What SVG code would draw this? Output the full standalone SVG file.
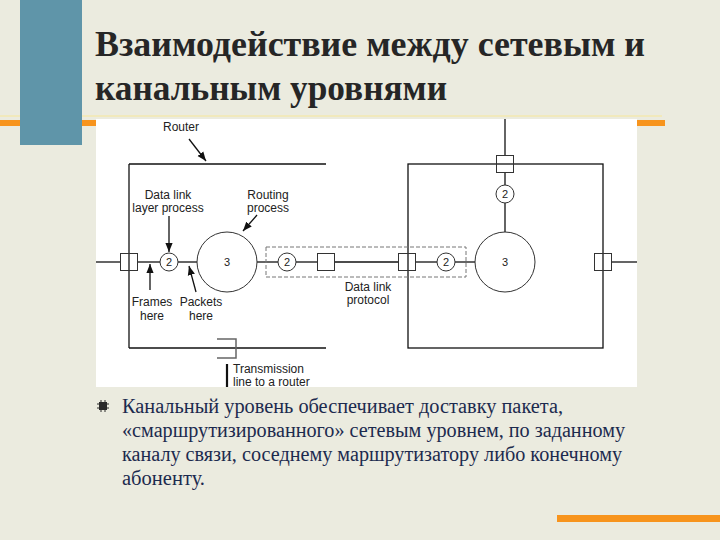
<svg xmlns="http://www.w3.org/2000/svg" width="720" height="540" viewBox="0 0 720 540">
<defs>
<style>
.ln{stroke:#111;stroke-width:1.3;fill:none}
.box{stroke:#333;stroke-width:1;fill:#fff}
.lbl{font-family:"Liberation Sans",Arial,sans-serif;font-size:12px;fill:#222}
.num{font-family:"Liberation Sans",Arial,sans-serif;font-size:11px;fill:#222;text-anchor:middle}
</style>
<marker id="ah" viewBox="0 0 10 10" refX="10" refY="5" markerWidth="7" markerHeight="7" orient="auto-start-reverse">
<path d="M0,1 L10,5 L0,9 z" fill="#111"/>
</marker>
</defs>
<rect width="720" height="540" fill="#ebebdf"/>
<line x1="0" y1="116" x2="662" y2="116" stroke="#f1e9bc" stroke-width="2"/>
<rect x="20" y="0" width="62" height="145" fill="#5f95a9"/>
<rect x="0" y="120" width="20" height="6" fill="#f7941d"/>
<rect x="82" y="120" width="583" height="6" fill="#f7941d"/>
<rect x="557" y="515" width="163" height="7" fill="#f7941d"/>
<g id="title" font-family="Liberation Serif, DejaVu Serif, serif" font-weight="bold" font-size="36" fill="#262626">
<text x="95" y="56" textLength="550" lengthAdjust="spacingAndGlyphs">Взаимодействие между сетевым и</text>
<text x="95" y="100" textLength="352" lengthAdjust="spacingAndGlyphs">канальным уровнями</text>
</g>

<rect x="96" y="119" width="541" height="268" fill="#fff"/>

<g id="connectors">
<line class="ln" x1="129" y1="164" x2="326" y2="164"/>
<line class="ln" x1="129" y1="164" x2="129" y2="348"/>
<line class="ln" x1="129" y1="348" x2="326" y2="348"/>
<rect class="ln" x="408" y="164" width="195" height="184"/>
<line class="ln" x1="96" y1="262" x2="120.5" y2="262"/>
<line class="ln" x1="137.5" y1="262" x2="160" y2="262"/>
<line class="ln" x1="178" y1="262" x2="197" y2="262"/>
<line class="ln" x1="257" y1="262" x2="278" y2="262"/>
<line class="ln" x1="296" y1="262" x2="317.5" y2="262"/>
<line class="ln" x1="334.5" y1="262" x2="398.5" y2="262"/>
<line class="ln" x1="415.5" y1="262" x2="437" y2="262"/>
<line class="ln" x1="455" y1="262" x2="475" y2="262"/>
<line class="ln" x1="611.5" y1="262" x2="637" y2="262"/>
<line class="ln" x1="505" y1="119" x2="505" y2="155.5"/>
<line class="ln" x1="505" y1="172.5" x2="505" y2="185"/>
<line class="ln" x1="505" y1="203" x2="505" y2="232"/>
<rect x="266" y="247" width="200" height="30" fill="none" stroke="#777" stroke-width="1" stroke-dasharray="4 2"/>
<line class="ln" x1="189" y1="139" x2="206" y2="161" marker-end="url(#ah)" stroke-width="1"/>
<line class="ln" x1="169" y1="216" x2="169" y2="252" marker-end="url(#ah)" stroke-width="1"/>
<line class="ln" x1="257" y1="215" x2="243" y2="231" marker-end="url(#ah)" stroke-width="1"/>
<line class="ln" x1="150" y1="290" x2="150" y2="264" marker-end="url(#ah)" stroke-width="1"/>
<line class="ln" x1="196" y1="292" x2="189" y2="266" marker-end="url(#ah)" stroke-width="1"/>
<path d="M217,339 H236 V358 H217" fill="none" stroke="#666" stroke-width="1.5"/>
<line x1="227" y1="364" x2="227" y2="387" stroke="#111" stroke-width="2.2"/>
</g>

<g id="sq-left"><rect class="box" x="120.5" y="253.5" width="17" height="17" fill-opacity="0"/></g>
<g id="dl-left"><circle class="box" cx="169" cy="262" r="9"/><text class="num" x="169" y="266">2</text></g>
<g id="rp-left"><circle class="box" cx="227" cy="262" r="30"/><text class="num" x="227" y="266">3</text></g>
<g id="dl-mid"><circle class="box" cx="287" cy="262" r="9"/><text class="num" x="287" y="266">2</text></g>
<g id="sq-mid"><rect class="box" x="317.5" y="253.5" width="17" height="17"/></g>
<g id="sq-right-in"><rect class="box" x="398.5" y="253.5" width="17" height="17" fill-opacity="0"/></g>
<g id="dl-right"><circle class="box" cx="446" cy="262" r="9"/><text class="num" x="446" y="266">2</text></g>
<g id="rp-right"><circle class="box" cx="505" cy="262" r="30"/><text class="num" x="505" y="266">3</text></g>
<g id="sq-right-out"><rect class="box" x="594.5" y="253.5" width="17" height="17" fill-opacity="0"/></g>
<g id="sq-top"><rect class="box" x="496.5" y="155.5" width="17" height="17" fill-opacity="0"/></g>
<g id="dl-top"><circle class="box" cx="505" cy="194" r="9"/><text class="num" x="505" y="198">2</text></g>

<g id="labels">
<text class="lbl" x="181" y="131" text-anchor="middle">Router</text>
<text class="lbl" x="168" y="199" text-anchor="middle">Data link</text>
<text class="lbl" x="168" y="212" text-anchor="middle">layer process</text>
<text class="lbl" x="268" y="199" text-anchor="middle">Routing</text>
<text class="lbl" x="268" y="212" text-anchor="middle">process</text>
<text class="lbl" x="152" y="306" text-anchor="middle">Frames</text>
<text class="lbl" x="152" y="320" text-anchor="middle">here</text>
<text class="lbl" x="201" y="306" text-anchor="middle">Packets</text>
<text class="lbl" x="201" y="320" text-anchor="middle">here</text>
<text class="lbl" x="368" y="291" text-anchor="middle">Data link</text>
<text class="lbl" x="368" y="304" text-anchor="middle">protocol</text>
<text class="lbl" x="233" y="373">Transmission</text>
<text class="lbl" x="233" y="386">line to a router</text>
</g>

<g id="bullet">
<rect x="99" y="402" width="8" height="8" fill="#2a2a2a"/>
<path d="M97,404 H109 M97,408 H109 M101,400 V412 M105,400 V412" stroke="#2a2a2a" stroke-width="1"/>
<g font-family="Liberation Serif, DejaVu Serif, serif" font-size="20" fill="#1c2a4e">
<text x="122" y="413" textLength="441" lengthAdjust="spacingAndGlyphs">Канальный уровень обеспечивает доставку пакета,</text>
<text x="122" y="437" textLength="503" lengthAdjust="spacingAndGlyphs">«смаршрутизированного» сетевым уровнем, по заданному</text>
<text x="122" y="461" textLength="500" lengthAdjust="spacingAndGlyphs">каналу связи, соседнему маршрутизатору либо конечному</text>
<text x="122" y="485" textLength="83" lengthAdjust="spacingAndGlyphs">абоненту.</text>
</g>
</g>
</svg>
